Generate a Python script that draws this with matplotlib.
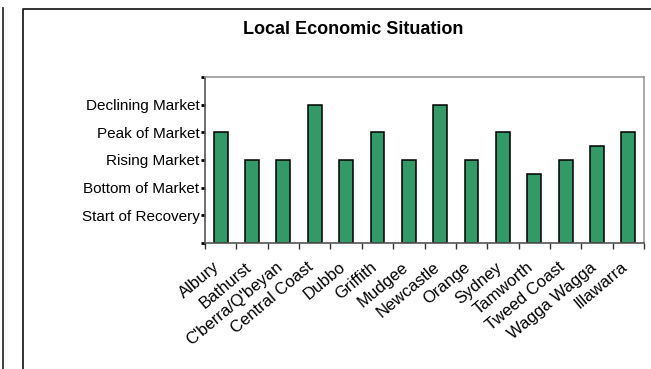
import matplotlib
matplotlib.use("Agg")
import matplotlib.pyplot as plt
import matplotlib.transforms as mtransforms
from matplotlib.lines import Line2D
import numpy as np

plt.rcParams["font.family"] = ["Liberation Sans", "DejaVu Sans"]

regions = ["Albury", "Bathurst", "C'berra/Q'beyan", "Central Coast", "Dubbo",
           "Griffith", "Mudgee", "Newcastle", "Orange", "Sydney", "Tamworth",
           "Tweed Coast", "Wagga Wagga", "Illawarra"]
situation = [4, 3, 3, 5, 3, 4, 3, 5, 3, 4, 2.5, 3, 3.5, 4]
stage_labels = ["Start of Recovery", "Bottom of Market", "Rising Market",
                "Peak of Market", "Declining Market"]
stage_values = [1, 2, 3, 4, 5]

fig = plt.figure(figsize=(6.51, 3.69), dpi=100)

# frame lines around the chart area
fig.add_artist(Line2D([2.5 / 651, 2.5 / 651], [0, 1 - 8 / 369], color="#333333", lw=1.3))
fig.add_artist(Line2D([22.5 / 651, 22.5 / 651, 1], [0, 1 - 8.5 / 369, 1 - 8.5 / 369],
                      color="#222222", lw=1.3))

ax = fig.add_axes([205 / 651, 1 - 243 / 369, 439 / 651, 166 / 369])
x = np.arange(len(regions))
ax.bar(x, situation, width=0.44, color="#339966", edgecolor="black", linewidth=1.1)

ax.set_xlim(-0.5, len(regions) - 0.5)
ax.set_ylim(0, 6)

ax.set_yticks(stage_values)
ax.set_yticklabels(stage_labels, fontsize=11)
ax.set_yticks([0, 6], minor=True)
ax.tick_params(axis="y", which="both", direction="out", length=3, width=2,
               color="black", pad=1)

ax.set_xticks(np.arange(len(regions) + 1) - 0.5, minor=True)
ax.set_xticks(x)
ax.set_xticklabels(regions, fontsize=12, rotation=40, ha="right",
                   rotation_mode="anchor", va="center")
ax.tick_params(axis="x", which="major", length=0, pad=16)
ax.tick_params(axis="x", which="minor", direction="out", length=4, width=1, color="#333333")
shift = mtransforms.ScaledTranslation(-3 / 100, 0, fig.dpi_scale_trans)
for lab in ax.get_xticklabels():
    lab.set_transform(lab.get_transform() + shift)

for side in ["top", "right"]:
    ax.spines[side].set_color("#999999")
    ax.spines[side].set_linewidth(1.2)
for side in ["left", "bottom"]:
    ax.spines[side].set_color("#555555")
    ax.spines[side].set_linewidth(1.2)

fig.text(353 / 651, 1 - 30 / 369, "Local Economic Situation", ha="center", va="center",
         fontsize=13, fontweight="bold")

fig.savefig("out.png", dpi=100)
